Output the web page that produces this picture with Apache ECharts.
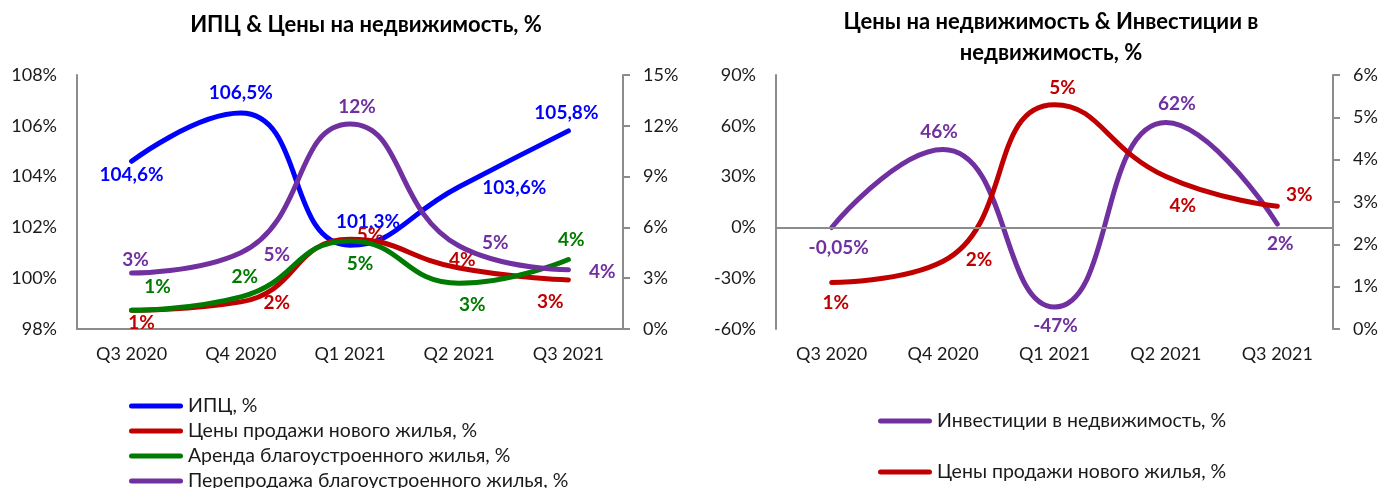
<!DOCTYPE html>
<html>
<head>
<meta charset="utf-8">
<script src="https://cdn.jsdelivr.net/npm/echarts@6/dist/echarts.min.js"></script>
<style>
html, body { margin: 0; padding: 0; background: #fff; }
#chart { width: 1381px; height: 488px; }
</style>
</head>
<body>
<div id="chart"></div>
<script>
// categories
var quarters = ['Q3 2020', 'Q4 2020', 'Q1 2021', 'Q2 2021', 'Q3 2021'];

// left chart
var cpi = [104.6, 106.5, 101.3, 103.6, 105.8];
var newHomePrices = [1.1, 1.6, 5.3, 3.6, 2.9];
var rent = [1.1, 1.9, 5.2, 2.7, 4.1];
var resale = [3.3, 4.5, 12.1, 4.9, 3.5];

// right chart
var investment = [-0.05, 46, -47, 62, 2];

// label offsets from the point (style only)
var cpiLabelOffsets = [[0, 14], [0, -20], [18, -23], [55, 1], [-2, -18]];
var newHomeLabelOffsets = [[10, 13], [36, 1], [20, -4], [3, -8], [-18, 22]];
var rentLabelOffsets = [[26, -23], [4, -20], [10, 23], [13, 22], [3, -20]];
var resaleLabelOffsets = [[4, -13], [36, 2], [7, -17], [36, -3], [34, 2]];
var investLabelOffsets = [[7, 20], [-4, -18], [1, 19], [11, -19], [3, 20]];
var newHomeRightLabelOffsets = [[4, 20], [36, -1], [8, -17], [17, 29], [22, -11]];

var FONT = 'Lato, "Noto Sans", sans-serif';
var AXIS_COLOR = '#8c8c8c';
var TEXT_COLOR = '#1a1a1a';

var BLUE = '#0000ff';
var RED = '#c00000';
var GREEN = '#007a00';
var PURPLE = '#7030a0';

var LEGEND_ICON = 'path://M2.5,0 L51.5,0 A2.5,2.5 0 0 1 51.5,5 L2.5,5 A2.5,2.5 0 0 1 2.5,0 Z';

function fmtCpi(v) {
    return v.toFixed(1).replace('.', ',') + '%';
}
function fmtRound(v) {
    return Math.round(v) + '%';
}
function fmtInvest(v) {
    return (Number.isInteger(v) ? String(v) : String(v).replace('.', ',')) + '%';
}

function lineSeries(name, values, color, xi, yi, fmt, offsets, z) {
    return {
        name: name,
        type: 'line',
        xAxisIndex: xi,
        yAxisIndex: yi,
        smooth: 0.5,
        symbol: 'circle',
        symbolSize: 1,
        showSymbol: true,
        z: z,
        lineStyle: { color: color, width: 5, cap: 'round' },
        itemStyle: { color: color },
        label: {
            show: true,
            position: 'inside',
            color: color,
            fontWeight: 'bold',
            fontSize: 19,
            fontFamily: FONT,
            formatter: function (p) { return fmt(p.value); }
        },
        data: values.map(function (v, i) {
            return { value: v, label: { offset: offsets[i] } };
        })
    };
}

function valueAxis(gridIndex, min, max, interval, position, ticks) {
    return {
        type: 'value',
        gridIndex: gridIndex,
        min: min,
        max: max,
        interval: interval,
        position: position,
        axisLine: { show: true, onZero: false, lineStyle: { color: AXIS_COLOR, width: 2 } },
        axisTick: { show: ticks, length: 7, lineStyle: { color: AXIS_COLOR, width: 2 } },
        splitLine: { show: false },
        axisLabel: {
            formatter: '{value}%',
            margin: 20,
            fontSize: 18,
            fontFamily: FONT,
            color: TEXT_COLOR
        }
    };
}

function categoryAxis(gridIndex, showLine) {
    return {
        type: 'category',
        gridIndex: gridIndex,
        data: quarters,
        boundaryGap: true,
        axisLine: { show: showLine, onZero: false, lineStyle: { color: AXIS_COLOR, width: 2 } },
        axisTick: { show: false },
        axisLabel: { margin: 16, fontSize: 18, fontFamily: FONT, color: TEXT_COLOR }
    };
}

var titleStyle = { fontSize: 22, fontWeight: 'bold', fontFamily: FONT, color: '#000', lineHeight: 31 };
var legendText = { fontSize: 19.5, fontFamily: FONT, color: TEXT_COLOR, lineHeight: 20 };

var investSeries = lineSeries('Инвестиции в недвижимость, %', investment, PURPLE, 1, 2, fmtInvest, investLabelOffsets, 2);
investSeries.markLine = {
    silent: true,
    symbol: 'none',
    label: { show: false },
    lineStyle: { color: AXIS_COLOR, width: 2, type: 'solid' },
    data: [{ yAxis: 0 }]
};

var option = {
    animation: false,
    backgroundColor: '#fff',
    title: [{
        text: 'ИПЦ & Цены на недвижимость, %',
        left: 361,
        top: 4,
        textAlign: 'center',
        textStyle: titleStyle
    }, {
        text: 'Цены на недвижимость & Инвестиции в\nнедвижимость, %',
        left: 1046,
        top: 1,
        textAlign: 'center',
        textStyle: titleStyle
    }],
    legend: [{
        orient: 'vertical',
        left: 124,
        top: 391,
        height: 300,
        icon: LEGEND_ICON,
        itemWidth: 54,
        itemHeight: 5,
        itemGap: 5,
        selectedMode: false,
        textStyle: legendText,
        data: ['ИПЦ, %', 'Цены продажи нового жилья, %', 'Аренда благоустроенного жилья, %', 'Перепродажа благоустроенного жилья, %']
    }, {
        orient: 'vertical',
        left: 873,
        top: 406,
        height: 300,
        icon: LEGEND_ICON,
        itemWidth: 54,
        itemHeight: 5,
        itemGap: 31,
        selectedMode: false,
        textStyle: legendText,
        data: ['Инвестиции в недвижимость, %', 'Цены продажи нового жилья, %']
    }],
    grid: [
        { left: 77, right: 758, top: 75, bottom: 159 },
        { left: 776, right: 48, top: 75, bottom: 159 }
    ],
    xAxis: [categoryAxis(0, true), categoryAxis(1, false)],
    yAxis: [
        valueAxis(0, 98, 108, 2, 'left', false),
        valueAxis(0, 0, 15, 3, 'right', true),
        valueAxis(1, -60, 90, 30, 'left', false),
        valueAxis(1, 0, 6, 1, 'right', true)
    ],
    series: [
        lineSeries('ИПЦ, %', cpi, BLUE, 0, 0, fmtCpi, cpiLabelOffsets, 2),
        lineSeries('Цены продажи нового жилья, %', newHomePrices, RED, 0, 1, fmtRound, newHomeLabelOffsets, 3),
        lineSeries('Аренда благоустроенного жилья, %', rent, GREEN, 0, 1, fmtRound, rentLabelOffsets, 4),
        lineSeries('Перепродажа благоустроенного жилья, %', resale, PURPLE, 0, 1, fmtRound, resaleLabelOffsets, 5),
        investSeries,
        lineSeries('Цены продажи нового жилья, %', newHomePrices, RED, 1, 3, fmtRound, newHomeRightLabelOffsets, 3)
    ]
};

var chart = echarts.init(document.getElementById('chart'));
chart.setOption(option);
</script>
</body>
</html>
